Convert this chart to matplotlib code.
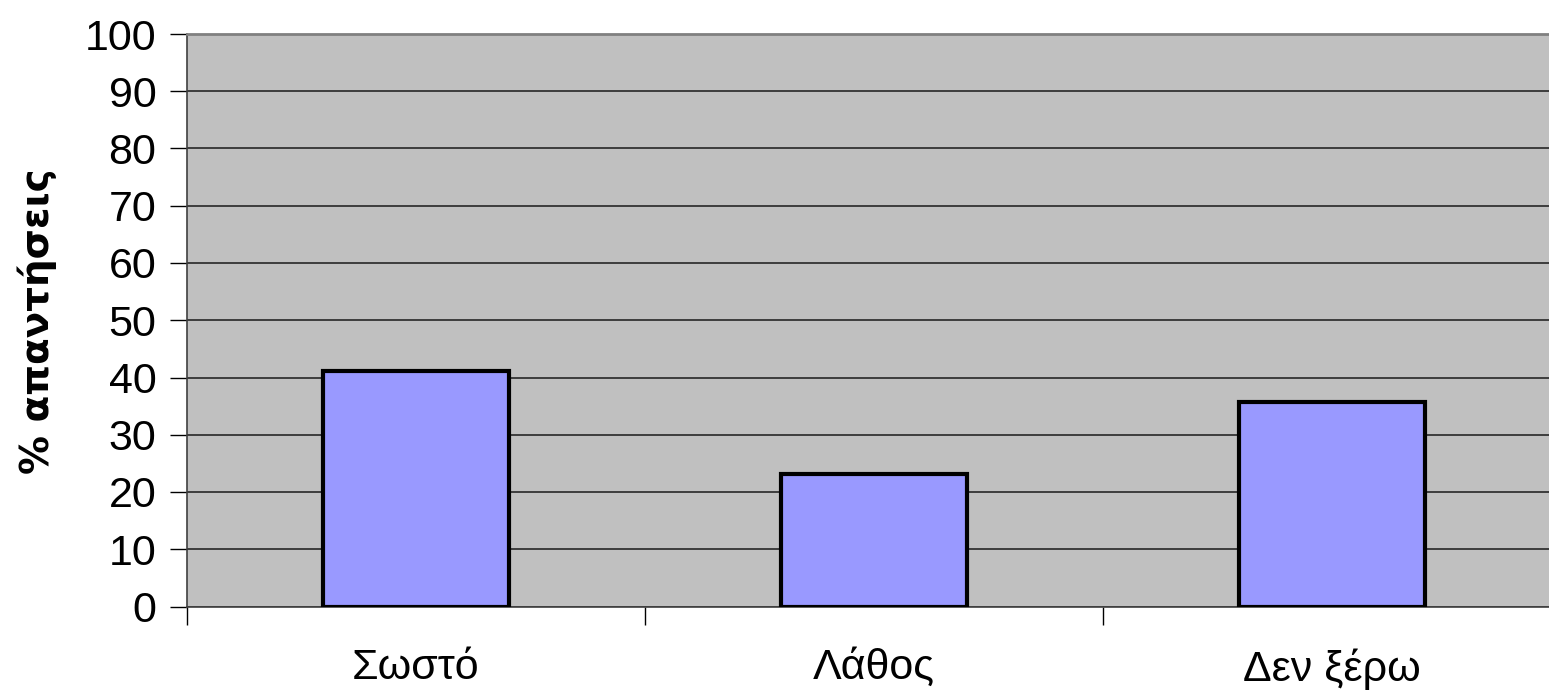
import matplotlib
matplotlib.use("Agg")
import matplotlib.pyplot as plt
import numpy as np

categories = ["Σωστό", "Λάθος", "Δεν ξέρω"]
values = [41.2, 23.2, 35.8]
yticks = [0, 10, 20, 30, 40, 50, 60, 70, 80, 90, 100]
ylabel = "% απαντήσεις"

W, H = 1549, 694
fig = plt.figure(figsize=(W / 100, H / 100), dpi=100)
left_px, right_px, top_px, bottom_px = 187, 1561, 34, 606.5
ax = fig.add_axes([left_px / W, 1 - bottom_px / H, (right_px - left_px) / W, (bottom_px - top_px) / H])
ax.set_facecolor("#C0C0C0")

x = np.arange(len(categories))
ax.bar(x, values, width=0.404, color="#9999FF", edgecolor="black", linewidth=3, zorder=3)

ax.set_xlim(-0.5, len(categories) - 0.5)
ax.set_ylim(0, 100)
ax.set_yticks(yticks)
ax.set_yticklabels([str(t) for t in yticks], fontsize=31, family="Liberation Sans")
ax.yaxis.grid(True, color="#1a1a1a", linewidth=1.1, zorder=1)
ax.set_axisbelow(True)

ax.set_xticks(np.arange(-0.5, len(categories), 1.0))
ax.set_xticklabels([""] * (len(categories) + 1))
ax.set_xticks(x, minor=True)
ax.set_xticklabels(categories, minor=True, fontsize=31, family="Liberation Sans")
ax.tick_params(axis="x", which="minor", length=0, pad=30)
ax.tick_params(axis="x", which="major", length=13, width=1, color="#000000", direction="out")
ax.tick_params(axis="y", length=12, width=1, color="#000000", direction="out", pad=10)

for side in ["top", "right"]:
    ax.spines[side].set_color("#808080")
    ax.spines[side].set_linewidth(2)
ax.spines["left"].set_color("#404040")
ax.spines["left"].set_linewidth(1.2)
ax.spines["bottom"].set_color("#404040")
ax.spines["bottom"].set_linewidth(1.2)

fig.text(37 / W, 1 - 321 / H, ylabel, rotation=90, fontsize=28, fontweight="bold",
         family="DejaVu Sans", ha="center", va="center")

fig.savefig("out.png", dpi=100)
